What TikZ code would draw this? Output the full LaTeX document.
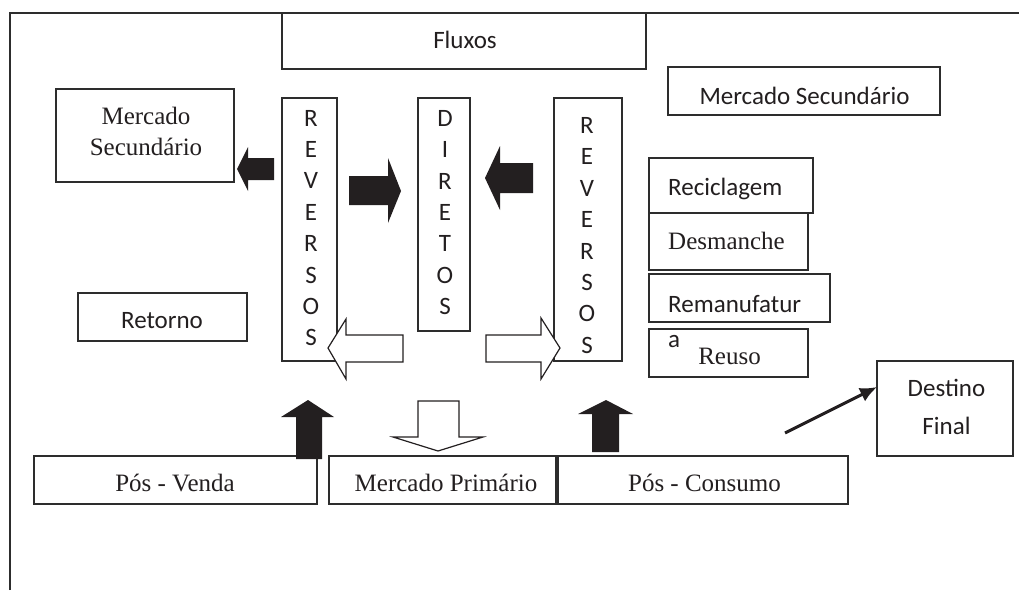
\documentclass[tikz,border=0pt]{standalone}
\usepackage{fontspec}
\setmainfont{Liberation Serif}
\newfontfamily\calibrifont{Carlito}
\usetikzlibrary{arrows.meta}
\definecolor{ink}{RGB}{35,31,32}
\definecolor{edge}{RGB}{45,45,45}
\tikzset{
  box/.style={draw=edge, line width=1.5pt, inner sep=0pt, outer sep=0pt, fill=white},
  ser/.style={font=\fontsize{25}{31}\selectfont, text=ink, inner sep=0pt, align=center},
  sans/.style={font=\calibrifont\fontsize{25}{31.4}\selectfont, text=ink, inner sep=0pt, align=center},
  blk/.style={fill=ink, draw=none},
  wht/.style={fill=white, draw=ink, line width=1.2pt, line join=miter},
  frameline/.style={draw=edge, line width=2.2pt},
}
\begin{document}
\begin{tikzpicture}[x=1pt,y=-1pt]
\useasboundingbox (0,0) rectangle (1019,590);
% frame
\coordinate (fbl) at (10,590);
\coordinate (ftl) at (10,13);
\coordinate (ftr) at (1019,13);
\draw[frameline] (fbl) -- (ftl) -- (ftr);

% boxes
\node[box, minimum width=364pt, minimum height=56pt] (fluxos) at (464,41) {};
\node[box, minimum width=178pt, minimum height=93pt] (msL) at (145,135.5) {};
\node[box, minimum width=55pt, minimum height=263pt] (revL) at (309.5,229.5) {};
\node[box, minimum width=52pt, minimum height=233pt] (dir) at (444,214.5) {};
\node[box, minimum width=68pt, minimum height=263pt] (revR) at (588,229.5) {};
\node[box, minimum width=272pt, minimum height=48pt] (msR) at (804,91) {};
\node[box, minimum width=164pt, minimum height=55pt] (recic) at (731,185.5) {};
\node[box, minimum width=159pt, minimum height=57pt] (desm) at (728.5,241.5) {};
\node[box, minimum width=181pt, minimum height=48pt] (reman) at (739.5,298) {};
\node[box, minimum width=159pt, minimum height=48pt] (reuso) at (728.5,353) {};
\node[box, minimum width=136pt, minimum height=95pt] (dest) at (945,408.5) {};
\node[box, minimum width=169pt, minimum height=48pt] (ret) at (162.5,317) {};
\node[box, minimum width=283pt, minimum height=48pt] (posV) at (175.5,480) {};
\node[box, minimum width=227pt, minimum height=48pt] (mp) at (442.5,480) {};
\node[box, minimum width=290pt, minimum height=48pt] (posC) at (703,480) {};

% black block arrows
\fill[blk] (237,169) -- (248,147) -- (248,158) -- (274,158) -- (274,180) -- (248,180) -- (248,191) -- cycle;
\fill[blk] (401,191) -- (388,158) -- (388,176) -- (349,176) -- (349,205) -- (388,205) -- (388,223) -- cycle;
\fill[blk] (485,178) -- (500,146) -- (500,163) -- (533,163) -- (533,193) -- (500,193) -- (500,210) -- cycle;
\fill[blk] (308,400) -- (334,417) -- (322,417) -- (322,459) -- (296,459) -- (296,417) -- (281,417) -- cycle;
\fill[blk] (606,400) -- (633,414) -- (619,414) -- (619,452) -- (592,452) -- (592,414) -- (578,414) -- cycle;

% white block arrows
\draw[wht] (328,348) -- (346,319) -- (346,335) -- (403,335) -- (403,362) -- (346,362) -- (346,379) -- cycle;
\draw[wht] (560,348) -- (541,318) -- (541,335) -- (486,335) -- (486,362) -- (541,362) -- (541,379) -- cycle;
\draw[wht] (418,401) -- (459,401) -- (459,437) -- (483,437) -- (438,451) -- (393,437) -- (418,437) -- cycle;

% arrow to Destino Final
\coordinate (dstart) at (785,433);
\draw[ink, line width=3pt, -{Latex[length=17pt,width=15pt]}] (dstart) -- ([yshift=21.5pt]dest.west);

% texts
\node[sans, anchor=base] (tfluxos) at (465,48) {Fluxos};
\node[ser] (tmsL) at (146,131) {Mercado\\Secundário};
\node[sans] (trevL) at (311,228) {R\\E\\V\\E\\R\\S\\O\\S};
\node[sans] (tdir) at (445,212.5) {D\\I\\R\\E\\T\\O\\S};
\node[sans] (trevR) at (587,235.5) {R\\E\\V\\E\\R\\S\\O\\S};
\node[sans, anchor=base] (tmsR) at (804.5,104) {Mercado Secundário};
\node[sans, anchor=base west] (trecic) at (668,195) {Reciclagem};
\node[ser, anchor=base west] (tdesm) at (668,249) {Desmanche};
\node[sans, anchor=base west] (treman) at (668,312) {Remanufatur};
\node[sans, anchor=base west] (ta) at (668,347) {a};
\node[ser, anchor=base] (treuso) at (729.5,364) {Reuso};
\node[sans, font=\calibrifont\fontsize{25}{38}\selectfont] (tdest) at (946.5,407) {Destino\\Final};
\node[sans, anchor=base] (tret) at (162,328) {Retorno};
\node[ser, anchor=base] (tposV) at (175,491) {Pós - Venda};
\node[ser, anchor=base] (tmp) at (446,491) {Mercado Primário};
\node[ser, anchor=base] (tposC) at (704.5,491) {Pós - Consumo};
\end{tikzpicture}
\end{document}
